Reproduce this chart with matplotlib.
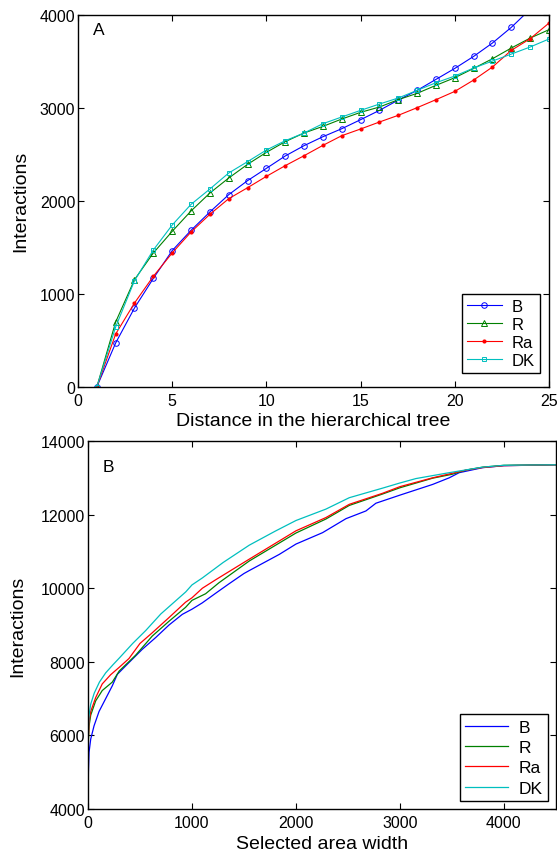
import matplotlib
matplotlib.use("Agg")
import matplotlib.pyplot as plt

plt.rcParams['font.family'] = ['Liberation Sans', 'DejaVu Sans']

# --- panel A: interactions vs distance in the hierarchical tree ---
dist = list(range(1, 26))
a_B = [0, 473, 849, 1167, 1465, 1683, 1880, 2066, 2217, 2349, 2482, 2593, 2689,
       2775, 2872, 2972, 3083, 3187, 3305, 3423, 3552, 3696, 3864, 4058, 4240]
a_R = [0, 698, 1153, 1440, 1672, 1891, 2084, 2245, 2392, 2521, 2636, 2729, 2800,
       2879, 2951, 3008, 3087, 3155, 3241, 3323, 3423, 3527, 3642, 3749, 3839]
a_Ra = [0, 569, 902, 1189, 1440, 1665, 1855, 2023, 2141, 2263, 2378, 2485, 2596,
        2700, 2772, 2847, 2919, 3001, 3087, 3176, 3298, 3438, 3617, 3742, 3910]
a_DK = [0, 645, 1142, 1472, 1740, 1962, 2127, 2299, 2421, 2546, 2646, 2729, 2829,
        2901, 2972, 3040, 3105, 3187, 3269, 3341, 3427, 3502, 3577, 3653, 3739]

# --- panel B: interactions vs selected area width ---
b_B_x = [0, 4, 10, 26, 58, 106, 170, 234, 282, 394, 522, 651, 779, 907, 1000, 1098,
         1226, 1356, 1500, 1551, 1840, 2000, 2256, 2481, 2673, 2769, 3000, 3314,
         3474, 3570, 3795, 4000, 4500]
b_B_y = [4000, 5000, 5540, 5900, 6260, 6650, 7000, 7350, 7660, 7980, 8340, 8660, 9000,
         9290, 9430, 9600, 9860, 10120, 10400, 10480, 10920, 11200, 11510, 11890,
         12100, 12310, 12530, 12820, 13000, 13140, 13276, 13330, 13355]

b_R_x = [0, 3, 10, 26, 74, 137, 234, 300, 458, 618, 778, 938, 1000, 1131, 1260, 1551,
         2000, 2288, 2513, 2833, 3000, 3314, 3500, 3635, 3795, 4000, 4500]
b_R_y = [4000, 5800, 6250, 6550, 6940, 7220, 7450, 7750, 8180, 8700, 9100, 9480, 9670,
         9850, 10150, 10740, 11500, 11880, 12250, 12560, 12730, 12990, 13095, 13210,
         13290, 13340, 13355]

b_Ra_x = [0, 3, 10, 26, 74, 137, 218, 300, 394, 500, 618, 778, 938, 1000, 1100, 1228,
          1551, 2000, 2288, 2513, 2833, 3000, 3314, 3635, 3795, 4000, 4500]
b_Ra_y = [4000, 5900, 6350, 6650, 7030, 7400, 7650, 7850, 8090, 8500, 8790, 9200, 9620,
          9740, 10000, 10230, 10790, 11560, 11920, 12280, 12580, 12760, 13000, 13210,
          13280, 13330, 13355]

b_DK_x = [0, 3, 10, 26, 60, 110, 170, 240, 300, 430, 555, 700, 800, 940, 1000, 1100,
          1300, 1551, 1800, 2000, 2288, 2513, 2833, 3000, 3154, 3474, 3795, 4000, 4500]
b_DK_y = [4000, 6100, 6550, 6850, 7150, 7450, 7700, 7920, 8100, 8500, 8850, 9300, 9550,
          9900, 10090, 10280, 10700, 11170, 11550, 11840, 12150, 12460, 12720, 12860,
          12980, 13140, 13290, 13340, 13355]

names = ['B', 'R', 'Ra', 'DK']
colors = ['#0000ff', '#008000', '#ff0000', '#00bfbf']

fig = plt.figure(figsize=(5.57, 8.54), dpi=100)
ax1 = fig.add_axes([0.140, 0.5457, 0.8456, 0.4359])
ax2 = fig.add_axes([0.158, 0.0515, 0.840, 0.4309])

# panel A
ax1.plot(dist, a_B, color=colors[0], lw=0.8, marker='o', ms=4, mfc='none', mew=0.7, label=names[0])
ax1.plot(dist, a_R, color=colors[1], lw=0.8, marker='^', ms=4.5, mfc='none', mew=0.7, label=names[1])
ax1.plot(dist, a_Ra, color=colors[2], lw=0.8, marker='o', ms=3, mfc=colors[2], mew=0, label=names[2])
ax1.plot(dist, a_DK, color=colors[3], lw=0.8, marker='s', ms=3.5, mfc='none', mew=0.7, label=names[3])
ax1.set_xlim(0, 25)
ax1.set_ylim(0, 4000)
ax1.set_xticks([0, 5, 10, 15, 20, 25])
ax1.set_yticks([0, 1000, 2000, 3000, 4000])
ax1.set_xlabel('Distance in the hierarchical tree', fontsize=14, labelpad=3)
ax1.set_ylabel('Interactions', fontsize=14, labelpad=7.5)
ax1.text(0.032, 0.959, 'A', transform=ax1.transAxes, fontsize=12.5, ha='left', va='center')
leg1 = ax1.legend(loc='lower right', bbox_to_anchor=(0.981, 0.0376), borderaxespad=0,
                  fontsize=12, handlelength=2.1, handletextpad=0.6, labelspacing=0.18,
                  borderpad=0.3, fancybox=False, framealpha=1, edgecolor='black')
leg1.get_frame().set_linewidth(1.0)

# panel B
ax2.plot(b_B_x, b_B_y, color=colors[0], lw=0.9, label=names[0])
ax2.plot(b_R_x, b_R_y, color=colors[1], lw=0.9, label=names[1])
ax2.plot(b_Ra_x, b_Ra_y, color=colors[2], lw=0.9, label=names[2])
ax2.plot(b_DK_x, b_DK_y, color=colors[3], lw=0.9, label=names[3])
ax2.set_xlim(0, 4500)
ax2.set_ylim(4000, 14000)
ax2.set_xticks([0, 1000, 2000, 3000, 4000])
ax2.set_yticks([4000, 6000, 8000, 10000, 12000, 14000])
ax2.set_xlabel('Selected area width', fontsize=14, labelpad=4)
ax2.set_ylabel('Interactions', fontsize=14, labelpad=10.5)
ax2.text(0.032, 0.931, 'B', transform=ax2.transAxes, fontsize=12.5, ha='left', va='center')
leg2 = ax2.legend(loc='lower right', bbox_to_anchor=(0.983, 0.0217), borderaxespad=0,
                  fontsize=12.5, handlelength=2.5, handletextpad=0.6, labelspacing=0.3,
                  borderpad=0.3, fancybox=False, framealpha=1, edgecolor='black')
leg2.get_frame().set_linewidth(1.0)

for ax in (ax1, ax2):
    ax.tick_params(direction='in', top=True, right=True, length=4, width=0.8,
                   labelsize=11.5, pad=2)
    ax.tick_params(axis='x', pad=4)
    for s in ax.spines.values():
        s.set_linewidth(1.0)

fig.savefig('out.png', dpi=100)
